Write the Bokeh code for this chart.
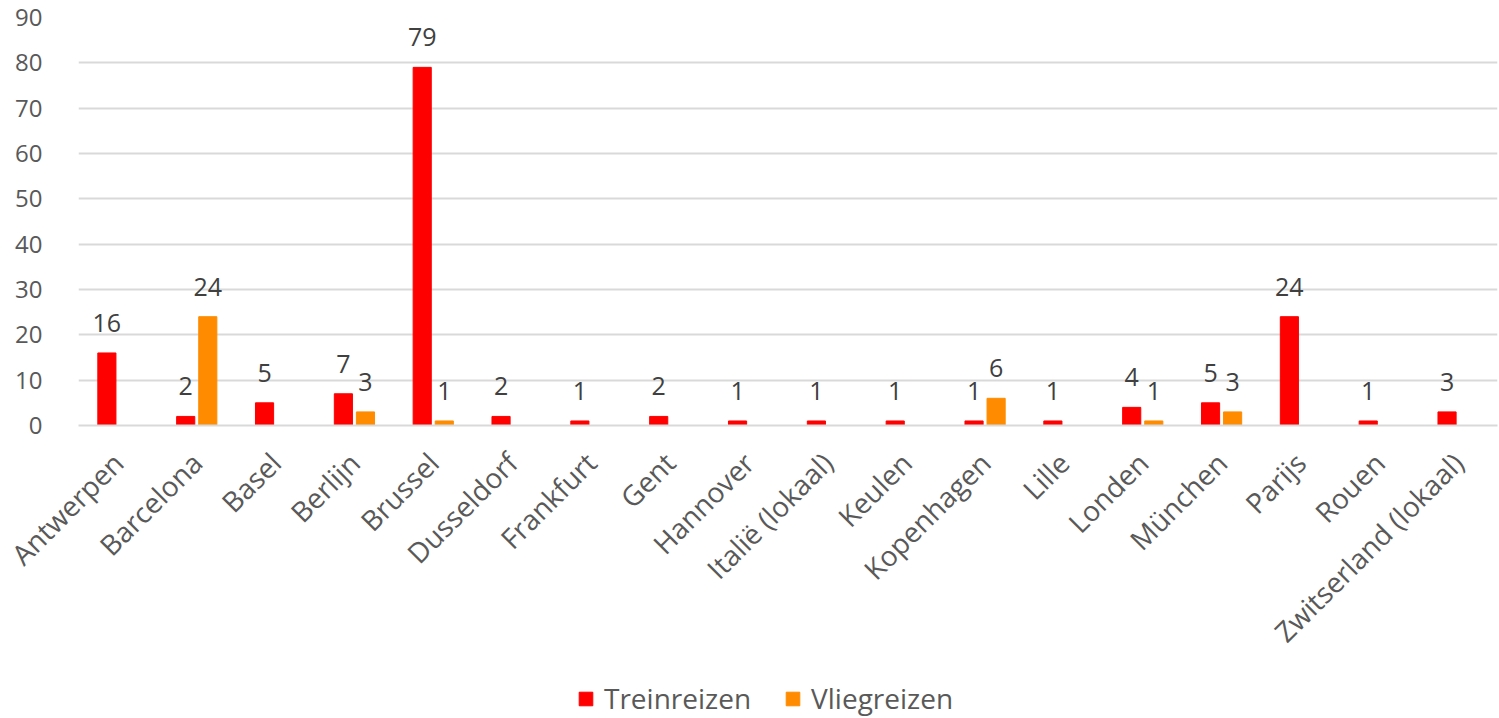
from bokeh.plotting import figure
from bokeh.models import ColumnDataSource, LabelSet, Legend, LegendItem, FactorRange
from bokeh.layouts import column
from bokeh.transform import dodge
from bokeh.core.properties import value
from bokeh.embed import file_html
from bokeh.resources import INLINE
import math

categories = ["Antwerpen", "Barcelona", "Basel", "Berlijn", "Brussel", "Dusseldorf",
              "Frankfurt", "Gent", "Hannover", "Italië (lokaal)", "Keulen", "Kopenhagen",
              "Lille", "Londen", "München", "Parijs", "Rouen", "Zwitserland (lokaal)"]
treinreizen = [16, 2, 5, 7, 79, 2, 1, 2, 1, 1, 1, 1, 1, 4, 5, 24, 1, 3]
vliegreizen = [0, 24, 0, 3, 1, 0, 0, 0, 0, 0, 0, 6, 0, 1, 3, 0, 0, 0]
series_names = ["Treinreizen", "Vliegreizen"]
y_ticks = [0, 10, 20, 30, 40, 50, 60, 70, 80, 90]

RED = "#ff0000"
ORANGE = "#ff8c00"
FONT = "Open Sans"

src = ColumnDataSource(dict(cat=categories, trein=treinreizen, vlieg=vliegreizen))
lab_t = ColumnDataSource(dict(cat=[c for c, v in zip(categories, treinreizen) if v > 0],
                              v=[v for v in treinreizen if v > 0],
                              t=[str(v) for v in treinreizen if v > 0]))
lab_v = ColumnDataSource(dict(cat=[c for c, v in zip(categories, vliegreizen) if v > 0],
                              v=[v for v in vliegreizen if v > 0],
                              t=[str(v) for v in vliegreizen if v > 0]))

x_range = FactorRange(factors=categories, range_padding=0)
p = figure(x_range=x_range, y_range=(0, 90), width=1499, height=680,
           output_backend="svg", toolbar_location=None,
           min_border_left=78, min_border_right=2, min_border_top=17, min_border_bottom=255)
p.outline_line_color = None
p.background_fill_color = "white"
p.border_fill_color = "white"

r1 = p.vbar(x=dodge("cat", -0.14, range=x_range), top="trein", width=0.23, source=src,
            fill_color=RED, line_color=RED)
r2 = p.vbar(x=dodge("cat", 0.14, range=x_range), top="vlieg", width=0.23, source=src,
            fill_color=ORANGE, line_color=ORANGE)

for s, off in ((lab_t, -0.14), (lab_v, 0.14)):
    p.add_layout(LabelSet(x=dodge("cat", off, range=x_range), y="v", text="t", source=s,
                          text_align="center", text_baseline="alphabetic", y_offset=21,
                          text_font=value(FONT), text_font_size="25px", text_color="#404040"))

p.xgrid.grid_line_color = None
p.ygrid.grid_line_color = "#d9d9d9"
p.ygrid.grid_line_width = 2
p.yaxis.ticker = y_ticks
p.yaxis.axis_line_color = None
p.yaxis.major_tick_line_color = None
p.yaxis.minor_tick_line_color = None
p.yaxis.major_label_text_font = FONT
p.yaxis.major_label_text_font_size = "24px"
p.yaxis.major_label_text_color = "#595959"
p.yaxis.major_label_standoff = 30

p.xaxis.axis_line_color = "#d9d9d9"
p.xaxis.axis_line_width = 2
p.xaxis.major_tick_line_color = None
p.xaxis.minor_tick_line_color = None
p.xaxis.major_label_orientation = math.pi / 4
p.xaxis.major_label_text_font = FONT
p.xaxis.major_label_text_font_size = "28px"
p.xaxis.major_label_text_color = "#595959"
p.xaxis.major_label_standoff = 26

# legend strip below the chart (frames are aligned with the chart's frame)
pl = figure(width=1499, height=38, x_range=(0, 1), y_range=(0, 1),
            x_axis_type=None, y_axis_type=None, output_backend="svg", toolbar_location=None,
            min_border_left=78, min_border_right=2, min_border_top=0, min_border_bottom=0)
pl.outline_line_color = None
pl.xgrid.grid_line_color = None
pl.ygrid.grid_line_color = None
hidden = ColumnDataSource(dict(x=[float("nan")], top=[float("nan")]))
d1 = pl.vbar(x="x", top="top", width=0.1, source=hidden, fill_color=RED, line_color=RED)
d2 = pl.vbar(x="x", top="top", width=0.1, source=hidden, fill_color=ORANGE, line_color=ORANGE)
legend = Legend(items=[LegendItem(label=series_names[0], renderers=[d1]),
                       LegendItem(label=series_names[1], renderers=[d2])],
                orientation="horizontal", location=(499, 1),
                label_text_font=FONT, label_text_font_size="28px", label_text_color="#595959",
                glyph_width=17, glyph_height=17, spacing=33, padding=0, margin=0,
                label_standoff=10, label_height=34, border_line_color=None,
                background_fill_alpha=0)
pl.add_layout(legend, "center")

layout = column(p, pl, spacing=0)
open("out.html", "w").write(file_html(layout, INLINE))
